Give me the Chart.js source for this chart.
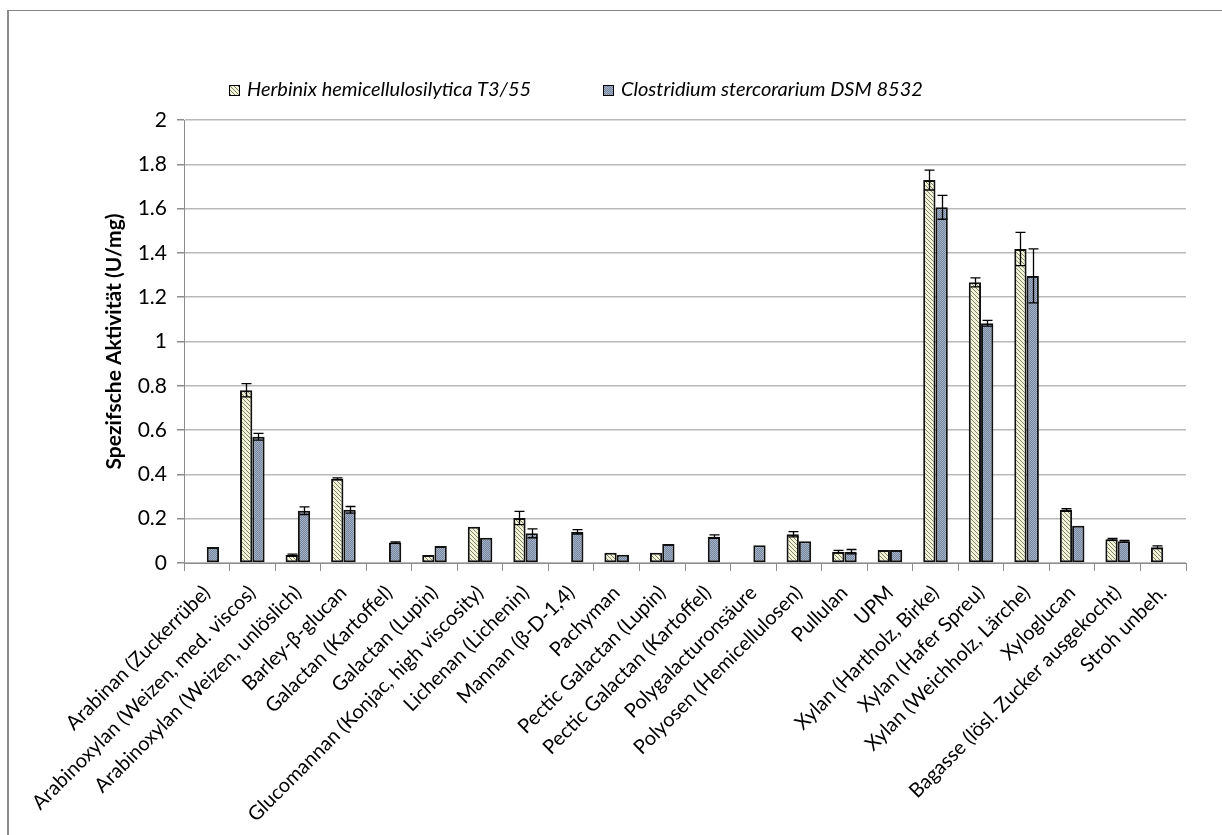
<!DOCTYPE html>
<html>
<head>
<meta charset="utf-8">
<script src="https://cdn.jsdelivr.net/npm/chart.js@4.4.0/dist/chart.umd.min.js"></script>
<style>
  html, body { margin: 0; padding: 0; background: #fff; overflow: hidden; }
  body { width: 1222px; height: 835px; position: relative; }
  #frame { position: absolute; left: 7px; top: 10px; width: 1300px; height: 900px;
           border-top: 1px solid #868686; border-left: 2px solid #8c8c8c; }
  #chart { position: absolute; left: 0; top: 0; }
</style>
</head>
<body>
<div id="frame"></div>
<canvas id="chart" width="1222" height="835"></canvas>
<script>
const categories = [
  'Arabinan (Zuckerrübe)',
  'Arabinoxylan (Weizen, med. viscos)',
  'Arabinoxylan (Weizen, unlöslich)',
  'Barley-β-glucan',
  'Galactan (Kartoffel)',
  'Galactan (Lupin)',
  'Glucomannan (Konjac, high viscosity)',
  'Lichenan (Lichenin)',
  'Mannan (β-D-1,4)',
  'Pachyman',
  'Pectic Galactan (Lupin)',
  'Pectic Galactan (Kartoffel)',
  'Polygalacturonsäure',
  'Polyosen (Hemicellulosen)',
  'Pullulan',
  'UPM',
  'Xylan (Hartholz, Birke)',
  'Xylan (Hafer Spreu)',
  'Xylan (Weichholz, Lärche)',
  'Xyloglucan',
  'Bagasse (lösl. Zucker ausgekocht)',
  'Stroh unbeh.'
];

const herbinix = [null, 0.78, 0.036, 0.38, null, 0.036, 0.164, 0.203, null, 0.046, 0.046,
  null, null, 0.13, 0.051, 0.059, 1.729, 1.267, 1.418, 0.239, 0.107, 0.071];
const herbinixErr = [0, 0.03, 0.004, 0.004, 0, 0, 0, 0.03, 0, 0, 0,
  0, 0, 0.012, 0.006, 0, 0.045, 0.02, 0.075, 0.006, 0.004, 0.006];

const clostridium = [0.072, 0.57, 0.236, 0.24, 0.092, 0.077, 0.114, 0.134, 0.141, 0.037, 0.086,
  0.119, 0.08, 0.098, 0.051, 0.059, 1.606, 1.082, 1.296, 0.168, 0.098, null];
const clostridiumErr = [0, 0.015, 0.017, 0.015, 0.003, 0, 0, 0.02, 0.01, 0, 0,
  0.008, 0, 0, 0.01, 0, 0.054, 0.013, 0.122, 0, 0.004, 0];

const yTicks = [0, 0.2, 0.4, 0.6, 0.8, 1, 1.2, 1.4, 1.6, 1.8, 2];
const yTickLabels = ['0', '0.2', '0.4', '0.6', '0.8', '1', '1.2', '1.4', '1.6', '1.8', '2'];

const seriesNames = ['Herbinix hemicellulosilytica T3/55', 'Clostridium stercorarium DSM 8532'];

const FONT = 'Lato, "Open Sans", sans-serif';

// fill patterns like the Excel hatch / checker fills
function hatchPattern() {
  const c = document.createElement('canvas');
  c.width = 4; c.height = 4;
  const g = c.getContext('2d');
  g.fillStyle = '#f3f3da';
  g.fillRect(0, 0, 4, 4);
  g.fillStyle = '#7f8562';
  for (let i = 0; i < 4; i++) g.fillRect(i, i, 1, 1);
  return g.createPattern(c, 'repeat');
}

function checkerPattern() {
  const c = document.createElement('canvas');
  c.width = 2; c.height = 2;
  const g = c.getContext('2d');
  g.fillStyle = '#a4b2c8';
  g.fillRect(0, 0, 2, 2);
  g.fillStyle = '#76869f';
  g.fillRect(1, 0, 1, 1);
  g.fillRect(0, 1, 1, 1);
  return g.createPattern(c, 'repeat');
}

const fills = [hatchPattern(), checkerPattern()];

const errorBars = {
  id: 'errorBars',
  afterDatasetsDraw(chart) {
    const ctx = chart.ctx;
    const y = chart.scales.y;
    ctx.save();
    ctx.strokeStyle = '#000';
    ctx.lineWidth = 1.3;
    chart.data.datasets.forEach((ds, i) => {
      const meta = chart.getDatasetMeta(i);
      meta.data.forEach((bar, j) => {
        const v = ds.data[j];
        const e = ds.errors[j];
        if (v == null || !e) return;
        const top = y.getPixelForValue(v + e);
        const bot = y.getPixelForValue(v - e);
        const x = Math.round(bar.x) + 0.5;
        ctx.beginPath();
        ctx.moveTo(x, top); ctx.lineTo(x, bot);
        ctx.moveTo(x - 5, top); ctx.lineTo(x + 5, top);
        ctx.moveTo(x - 5, bot); ctx.lineTo(x + 5, bot);
        ctx.stroke();
      });
    });
    ctx.restore();
  }
};

// legend sits left of centre in the original, so it is drawn by hand
const topLegend = {
  id: 'topLegend',
  afterDraw(chart) {
    const ctx = chart.ctx;
    const items = [{ x: 229 }, { x: 603 }];
    ctx.save();
    ctx.font = 'italic 20px ' + FONT;
    ctx.textBaseline = 'middle';
    ctx.fillStyle = '#000';
    items.forEach((it, i) => {
      ctx.fillStyle = fills[i];
      ctx.fillRect(it.x, 85, 10, 10);
      ctx.strokeStyle = '#000';
      ctx.lineWidth = 1;
      ctx.strokeRect(it.x + 0.5, 85.5, 10, 10);
      ctx.fillStyle = '#000';
      ctx.fillText(seriesNames[i], it.x + 18, 90);
    });
    ctx.restore();
  }
};

new Chart(document.getElementById('chart'), {
  type: 'bar',
  data: {
    labels: categories,
    datasets: [
      {
        label: seriesNames[0],
        data: herbinix,
        errors: herbinixErr,
        backgroundColor: fills[0],
        borderColor: '#111',
        borderWidth: 2,
        borderSkipped: false,
        categoryPercentage: 0.54,
        barPercentage: 1.0
      },
      {
        label: seriesNames[1],
        data: clostridium,
        errors: clostridiumErr,
        backgroundColor: fills[1],
        borderColor: '#111',
        borderWidth: 2,
        borderSkipped: false,
        categoryPercentage: 0.54,
        barPercentage: 1.0
      }
    ]
  },
  options: {
    responsive: false,
    animation: false,
    layout: { padding: { left: 102, top: 120, right: 36, bottom: 0 } },
    plugins: {
      legend: { display: false },
      tooltip: { enabled: false }
    },
    scales: {
      x: {
        grid: { drawOnChartArea: false, offset: true, color: '#8c8c8c', tickLength: 8 },
        border: { color: '#8c8c8c' },
        ticks: {
          autoSkip: false,
          minRotation: 45,
          maxRotation: 45,
          padding: 10,
          color: '#000',
          font: { family: FONT, size: 20 }
        },
        afterFit(scale) { scale.height = 272; }
      },
      y: {
        min: 0,
        max: 2,
        afterBuildTicks(scale) { scale.ticks = yTicks.map(v => ({ value: v })); },
        ticks: {
          padding: 10,
          color: '#000',
          font: { family: FONT, size: 21 },
          callback: (v, i) => yTickLabels[i]
        },
        grid: { color: '#b9b9b9', lineWidth: 1.5, tickColor: '#8c8c8c', tickLength: 7 },
        border: { color: '#8c8c8c' },
        title: {
          display: true,
          text: 'Spezifsche Aktivität (U/mg)',
          color: '#000',
          padding: 0,
          font: { family: FONT, size: 21, weight: 'bold' }
        },
        afterFit(scale) { scale.width = 82; }
      }
    }
  },
  plugins: [errorBars, topLegend]
});
</script>
</body>
</html>
